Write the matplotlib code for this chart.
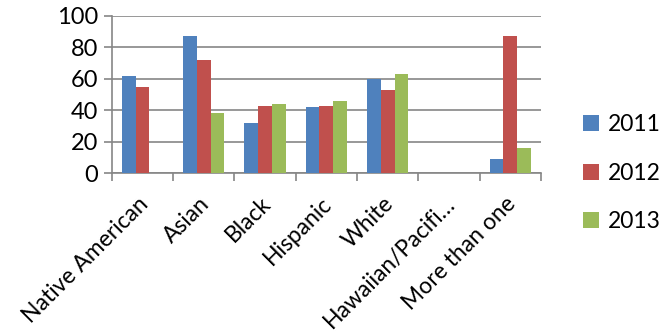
import numpy as np
import matplotlib.pyplot as plt
from matplotlib.transforms import ScaledTranslation

categories = ['Native American', 'Asian', 'Black', 'Hispanic', 'White',
              'Hawaiian/Pacifi\u2026', 'More than one']
years = ['2011', '2012', '2013']
vals_2011 = [62, 87, 32, 42, 60, 0, 9]
vals_2012 = [55, 72, 43, 43, 53, 0, 87]
vals_2013 = [0, 38, 44, 46, 63, 0, 16]
colors = ['#4F81BD', '#C0504D', '#9BBB59']

plt.rcParams['font.family'] = ['Lato', 'DejaVu Sans']

fig = plt.figure(figsize=(6.62, 3.33), dpi=100)
ax = fig.add_axes([0.169, 0.480, 0.648, 0.472])

x = np.arange(len(categories))
w = 0.225
for i, (vals, c, yr) in enumerate(zip([vals_2011, vals_2012, vals_2013], colors, years)):
    ax.bar(x + (i - 1) * w, vals, width=w, color=c, label=yr, zorder=3, linewidth=0)

ax.set_xlim(-0.5, len(categories) - 0.5)
ax.set_ylim(0, 100)
ax.set_yticks(range(0, 101, 20))
ax.yaxis.grid(True, color='#868686', linewidth=1.2, zorder=0)
for s in ['top', 'right']:
    ax.spines[s].set_visible(False)
for s in ['left', 'bottom']:
    ax.spines[s].set_color('#868686')
    ax.spines[s].set_linewidth(1.2)
ax.tick_params(axis='y', length=6, color='#868686', width=1.2, labelsize=17, pad=4)

ax.set_xticks(x)
ax.set_xticklabels(categories, rotation=45, ha='right', rotation_mode='anchor', fontsize=16.5)
ax.tick_params(axis='x', which='major', length=0, pad=10)
ax.set_xticks(np.arange(-0.5, len(categories), 1), minor=True)
ax.tick_params(axis='x', which='minor', length=6, color='#868686', width=1.2)
shift = ScaledTranslation(-0.05, -0.06, fig.dpi_scale_trans)
for lbl in ax.get_xticklabels():
    lbl.set_transform(lbl.get_transform() + shift)

ax.legend(loc='center left', bbox_to_anchor=(1.05, 0.0), frameon=False, fontsize=16.5,
          handlelength=0.7, handleheight=0.7, handletextpad=0.4, labelspacing=1.2)

fig.savefig('out.png', dpi=100)
